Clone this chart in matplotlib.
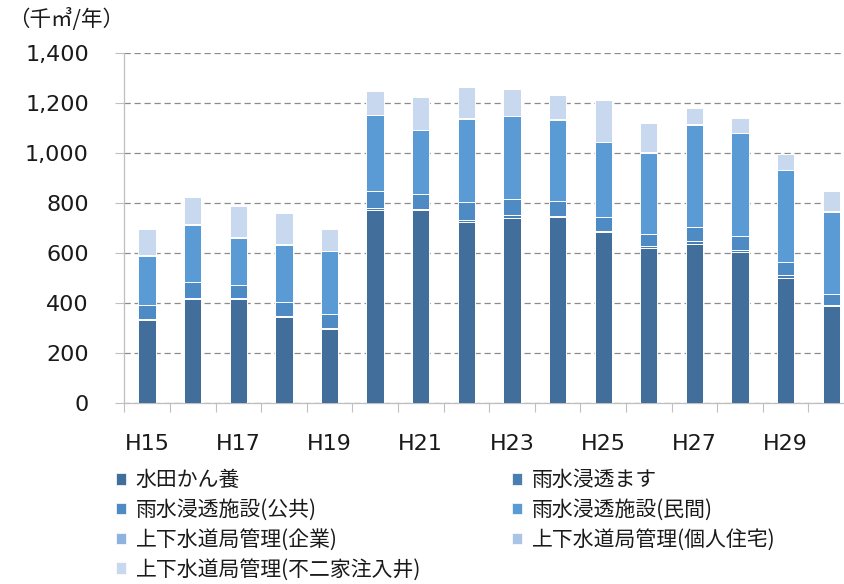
import matplotlib
matplotlib.use('Agg')
import matplotlib.pyplot as plt
from matplotlib.patches import Patch
from matplotlib.ticker import FuncFormatter
import numpy as np

plt.rcParams['font.family'] = ['DejaVu Sans', 'Noto Sans CJK JP']

years = ['H15', 'H16', 'H17', 'H18', 'H19', 'H20', 'H21', 'H22',
         'H23', 'H24', 'H25', 'H26', 'H27', 'H28', 'H29', 'H30']
shown_labels = ['H15', 'H17', 'H19', 'H21', 'H23', 'H25', 'H27', 'H29']

paddy = [332, 417, 417, 344, 295, 773, 772, 724, 738, 744, 685, 621, 635, 606, 502, 388]
rain_masu = [5, 4, 3, 5, 4, 5, 5, 9, 13, 5, 5, 7, 14, 8, 9, 4]
facility_public = [56, 65, 53, 57, 56, 68, 57, 72, 63, 60, 55, 49, 53, 53, 52, 45]
facility_private = [197, 226, 188, 227, 252, 304, 256, 332, 332, 324, 297, 322, 410, 411, 367, 327]
water_company = [2, 2, 2, 2, 2, 2, 2, 2, 2, 2, 2, 2, 2, 2, 2, 2]
water_house = [1, 1, 1, 1, 1, 1, 1, 1, 1, 1, 1, 1, 1, 1, 1, 1]
water_fujiya = [103, 108, 122, 124, 88, 94, 131, 122, 107, 95, 167, 118, 63, 58, 63, 82]

series_names = ['水田かん養', '雨水浸透ます', '雨水浸透施設(公共)', '雨水浸透施設(民間)',
                '上下水道局管理(企業)', '上下水道局管理(個人住宅)', '上下水道局管理(不二家注入井)']
series_values = [paddy, rain_masu, facility_public, facility_private,
                 water_company, water_house, water_fujiya]
colors = ['#416E9A', '#4A7EB1', '#4E8AC4', '#5B9BD5', '#8EB3E0', '#AAC4E6', '#C8D8EE']

W, H = 845, 584
fig = plt.figure(figsize=(W / 100, H / 100), dpi=100)
ax = fig.add_axes([124.3 / W, (H - 403.3) / H, (854 - 124.3) / W, (403.3 - 52.7) / H])

x = np.arange(len(years))
bottom = np.zeros(len(years))
for name, vals, c in zip(series_names, series_values, colors):
    v = np.array(vals, dtype=float)
    ax.bar(x, v, width=0.38, bottom=bottom, color=c, edgecolor='white',
           linewidth=0.7, zorder=3)
    bottom += v

ax.set_xlim(-0.5, len(years) - 0.5)
ax.set_ylim(0, 1400)
ax.set_yticks(np.arange(0, 1401, 200))
ax.yaxis.set_major_formatter(FuncFormatter(lambda v, p: f'{int(v):,}'))
ax.tick_params(axis='y', length=6.5, width=0.8, color='#BFBFBF', pad=19,
               labelsize=16, labelcolor='#1a1a1a')

ax.set_xticks([years.index(l) for l in shown_labels])
ax.set_xticklabels(shown_labels)
ax.set_xticks(np.arange(-0.5, len(years), 1.0), minor=True)
ax.tick_params(axis='x', which='major', length=0, pad=22, labelsize=16,
               labelcolor='#1a1a1a')
ax.tick_params(axis='x', which='minor', length=6.5, width=0.8, color='#BFBFBF')

ax.yaxis.grid(True, color='#8C8C8C', linestyle=(0, (5, 3)), linewidth=0.9, zorder=0)
ax.set_axisbelow(True)
for s in ['top', 'right']:
    ax.spines[s].set_visible(False)
for s in ['left', 'bottom']:
    ax.spines[s].set_color('#BFBFBF')
    ax.spines[s].set_linewidth(0.9)

fig.text(8 / W, 1 - 20 / H, '（千㎥/年）', fontsize=15.5, va='center', ha='left',
         family=['Noto Sans CJK JP', 'DejaVu Sans'], color='#1a1a1a')

handles = [Patch(facecolor=c, edgecolor='white', linewidth=0.5) for c in colors]
cjk = {'family': ['Noto Sans CJK JP', 'DejaVu Sans'], 'size': 15}
common = dict(frameon=False, handlelength=0.5, handleheight=0.5, handletextpad=0.45,
              labelspacing=0.38, borderpad=0, borderaxespad=0, prop=cjk,
              loc='upper left', labelcolor='#1a1a1a')
col1 = [0, 2, 4, 6]
col2 = [1, 3, 5]
leg1 = fig.legend([handles[i] for i in col1], [series_names[i] for i in col1],
                  bbox_to_anchor=(116 / W, 1 - 469 / H), **common)
leg2 = fig.legend([handles[i] for i in col2], [series_names[i] for i in col2],
                  bbox_to_anchor=(512 / W, 1 - 469 / H), **common)

fig.savefig('out.png', dpi=100)
